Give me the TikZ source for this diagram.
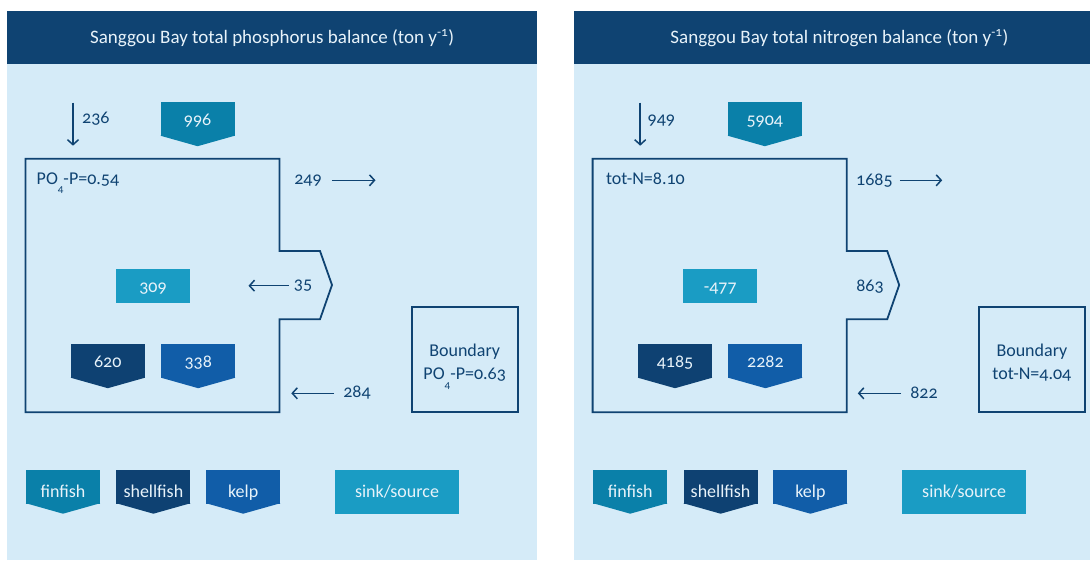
\documentclass[tikz,border=0pt]{standalone}
\usepackage{fontspec}
\setmainfont{Carlito}[Numbers=OldStyle]
\usepackage{xcolor}
\usetikzlibrary{arrows.meta, positioning}

\definecolor{navy}{HTML}{0F4372}
\definecolor{pale}{HTML}{D5EBF8}
\definecolor{fincol}{HTML}{0A80A9}
\definecolor{shellcol}{HTML}{0E4172}
\definecolor{kelpcol}{HTML}{115DA8}
\definecolor{sinkcol}{HTML}{1A9CC4}
\definecolor{boxtext}{HTML}{E8F3FA}

\newcommand{\lowsub}[1]{\smash{\raisebox{-8.5pt}{\fontsize{11}{11}\selectfont #1}}}

\begin{document}
\begin{tikzpicture}[
    x=1pt, y=-1pt,
    header/.style={fill=navy, text=boxtext, minimum width=530pt, minimum height=53pt,
                   anchor=north west, inner sep=0pt, font=\fontsize{19}{22}\selectfont},
    chev/.style={fill=#1, text=boxtext, minimum width=74pt, minimum height=34pt,
                 inner sep=0pt, text height=13pt, text depth=1pt,
                 font=\fontsize{18}{22}\selectfont},
    key/.style={chev=#1, text height=22pt, text depth=0pt},
    sinkbox/.style={fill=sinkcol, text=boxtext, minimum width=74pt, minimum height=34pt,
                    inner sep=0pt, text height=13pt, text depth=1pt,
                    font=\fontsize{18}{22}\selectfont},
    boundbox/.style={draw=navy, line width=1.8pt, text=navy, minimum width=106pt,
                     minimum height=105pt, align=center, text height=45pt, text depth=5pt,
                     font=\fontsize{18}{22.6}\selectfont},
    txt/.style={text=navy, inner sep=0pt, font=\fontsize{18}{22}\selectfont},
    bay/.style={draw=navy, line width=1.8pt},
    flow/.style={-{Straight Barb[length=5pt,width=11pt]}, line width=1.5pt, navy}
]
\path[use as bounding box, clip] (0,0) rectangle (1090,560);

% ---------------- phosphorus
\begin{scope}
\fill[pale] (7,60) rectangle (537,560);
\node[header] (ptitle) at (7,11) {Sanggou Bay total phosphorus balance (ton y\textsuperscript{-1})};

\draw[bay] (25.4,158.7) -- (279.5,158.7) -- (279.5,251) -- (320,251) -- (332,285)
    -- (320,319.3) -- (279.5,319.3) -- (279.5,412.3) -- (25.4,412.3) -- cycle;
\node[txt, anchor=base west] (pconc) at (36.5,184.3) {PO\lowsub{4}-P=0.54};

\node[chev=fincol] (p996) at (197.6,119) {996};
\node[sinkbox] (p309) at (153,286) {309};
\node[chev=shellcol] (p620) at (107.8,361) {620};
\node[chev=kelpcol, right=16pt of p620] (p338) {338};
\node[boundbox] (pbound) at (464.7,359.5) {Boundary\\PO\lowsub{4}-P=0.63};

\node[txt, anchor=west] (p236) at (82,119) {236};
\node[txt] (p249) at (308,181) {249};
\node[txt] (p35) at (303,285.5) {35};
\node[txt] (p284) at (357,393) {284};
\coordinate (p236a) at (73,102.7);
\coordinate (p236b) at (73,145.7);
\coordinate (p249b) at (375.5,180.3);
\coordinate (p35b) at (248.5,285.7);
\coordinate (p284b) at (291.3,393.3);
\draw[flow] (p236a) -- (p236b);
\draw[flow] ([xshift=10pt]p249.east |- p249b) -- (p249b);
\draw[flow] ([xshift=-5pt]p35.west |- p35b) -- (p35b);
\draw[flow] ([xshift=-9pt]p284.west |- p284b) -- (p284b);

\node[key=fincol] (pfin) at (63,486.5) {finfish};
\node[key=shellcol, right=16pt of pfin] (pshell) {shellfish};
\node[key=kelpcol, right=15.4pt of pshell] (pkelp) {kelp};
\node[sinkbox, minimum width=124pt, minimum height=43.7pt] (psink) at (397,491.8) {sink/source};

\foreach \n/\c in {p996/fincol, p620/shellcol, p338/kelpcol,
                   pfin/fincol, pshell/shellcol, pkelp/kelpcol}
    \fill[\c] ([yshift=0.5pt]\n.south west) -- ([yshift=-10pt]\n.south)
        -- ([yshift=0.5pt]\n.south east) -- cycle;
\end{scope}

% ---------------- nitrogen
\begin{scope}[xshift=567.2pt]
\fill[pale] (7,60) rectangle (537,560);
\node[header] (ntitle) at (7,11) {Sanggou Bay total nitrogen balance (ton y\textsuperscript{-1})};

\draw[bay] (25.4,158.7) -- (279.5,158.7) -- (279.5,251) -- (320,251) -- (332,285)
    -- (320,319.3) -- (279.5,319.3) -- (279.5,412.3) -- (25.4,412.3) -- cycle;
\node[txt, anchor=base west] (nconc) at (38.6,184.8) {tot-N=8.10};

\node[chev=fincol] (n5904) at (197.6,119) {5904};
\node[sinkbox] (n477) at (153,286) {-477};
\node[chev=shellcol] (n4185) at (107.8,361) {4185};
\node[chev=kelpcol, right=16pt of n4185] (n2282) {2282};
\node[boundbox] (nbound) at (464.7,359.5) {Boundary\\tot-N=4.04};

\node[txt, anchor=west] (n949) at (80.3,121) {949};
\node[txt] (n1685) at (307.2,181) {1685};
\node[txt] (n863) at (302.8,286.5) {863};
\node[txt] (n822) at (356.8,393) {822};
\coordinate (n949a) at (73,102.7);
\coordinate (n949b) at (73,145.7);
\coordinate (n1685b) at (375,180.3);
\coordinate (n822b) at (290.6,393.3);
\draw[flow] (n949a) -- (n949b);
\draw[flow] ([xshift=7pt]n1685.east |- n1685b) -- (n1685b);
\draw[flow] ([xshift=-9pt]n822.west |- n822b) -- (n822b);

\node[key=fincol] (nfin) at (63,486.5) {finfish};
\node[key=shellcol, right=16pt of nfin] (nshell) {shellfish};
\node[key=kelpcol, right=15.4pt of nshell] (nkelp) {kelp};
\node[sinkbox, minimum width=124pt, minimum height=43.7pt] (nsink) at (397,491.8) {sink/source};

\foreach \n/\c in {n5904/fincol, n4185/shellcol, n2282/kelpcol,
                   nfin/fincol, nshell/shellcol, nkelp/kelpcol}
    \fill[\c] ([yshift=0.5pt]\n.south west) -- ([yshift=-10pt]\n.south)
        -- ([yshift=0.5pt]\n.south east) -- cycle;
\end{scope}
\end{tikzpicture}
\end{document}
